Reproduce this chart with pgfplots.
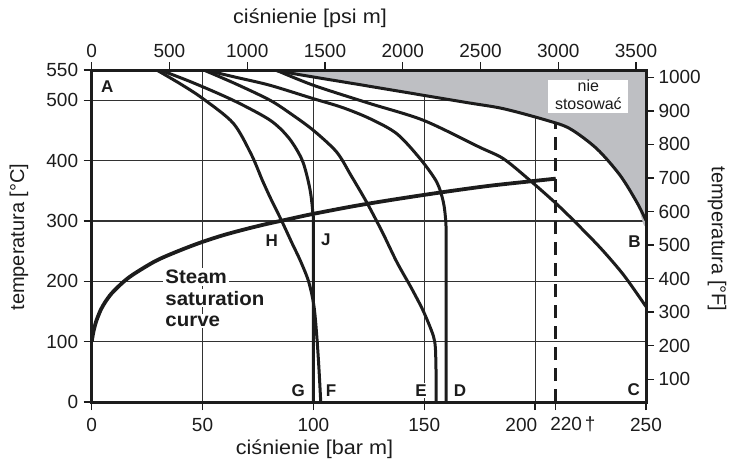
\documentclass[border=0pt]{standalone}
\usepackage{fontspec}
\setmainfont{Liberation Sans}
\usepackage{pgfplots}
\pgfplotsset{compat=1.18}
\definecolor{ink}{RGB}{28,28,28}
\definecolor{shade}{RGB}{190,191,195}
\definecolor{gridc}{RGB}{50,50,50}
\tikzset{
  lbl/.style={font=\bfseries\fontsize{17}{17}\selectfont, text=ink, fill=white, inner sep=1.5pt},
  steam/.style={font=\bfseries\fontsize{19.5}{19.5}\selectfont, text=ink, fill=white, inner sep=2pt, anchor=base west, xscale=1.05},
  axlbl/.style={font=\fontsize{20}{20}\selectfont, text=ink},
}
\begin{document}
\begin{tikzpicture}
\path[use as bounding box] (-91.7pt,-62pt) rectangle (638.3pt,402pt);
\begin{axis}[
  at={(0pt,0pt)}, anchor=south west,
  scale only axis, width=554.3pt, height=332pt,
  xmin=0, xmax=250, ymin=0, ymax=550,
  axis line style={line width=3pt, draw=ink},
  xtick={0,50,100,150,200,250},
  xticklabels={0,50,100,150,\makebox[0pt]{\hspace{-27.6pt}200},250},
  ytick={0,100,200,300,400,500,550},
  xtick pos=left, ytick pos=left,
  tick align=outside, major tick length=8pt,
  tick style={line width=1.3pt, draw=ink},
  xmajorgrids, ymajorgrids,
  major grid style={line width=1.2pt, draw=gridc},
  extra x ticks={209.3},
  extra x tick labels={220\hspace{3pt}†},
  extra x tick style={grid=none, xticklabel style={anchor=west, xshift=-5.7pt}},
  /pgf/number format/assume math mode=true,
  tick label style={font=\fontsize{19}{19}\selectfont, text=ink, inner sep=0pt},
  xticklabel style={anchor=center, yshift=-14.5pt},
  yticklabel style={anchor=east, xshift=-5.4pt},
]
% do-not-use region
\addplot[fill=shade, draw=none, smooth] coordinates {
 (82,550) (95.3,541.3) (120,526.3) (149.6,508.1) (170,495.6) (185.7,485.9)
 (205.2,466.7) (215.7,452.8) (227.8,419.6) (238.3,375.6) (245.8,331.3) (250,301) (250,550)};
\addplot[draw=ink, line width=3pt, smooth] coordinates {
 (82,550) (95.3,541.3) (120,526.3) (149.6,508.1) (170,495.6) (185.7,485.9)
 (205.2,466.7) (215.7,452.8) (227.8,419.6) (238.3,375.6) (245.8,331.3) (250,301)};
% dashed critical pressure
\addplot[draw=ink, line width=2.6pt, dash pattern=on 13pt off 8pt] coordinates {(209.3,0) (209.3,461)};
% B
\addplot[draw=ink, line width=3pt, smooth] coordinates {
 (83,550) (100,524.7) (125,495) (149.6,466.7) (175,422) (185.7,403) (197.7,367)
 (210,327) (220,291) (230,253) (240,210) (250,158)};
% D
\addplot[draw=ink, line width=3pt, smooth] coordinates {
 (51,550) (65,538) (80.4,524.7) (100,502.5) (113,488) (125.5,469.4) (137.6,444.5)
 (148.1,403.1) (155.6,364.5) (158.6,331.3) (159.7,298) (159.8,260) (159.8,0)};
% E
\addplot[draw=ink, line width=3pt, smooth] coordinates {
 (50.5,550) (65,527) (80.4,500) (90,477) (100,450) (110.5,414) (117,375) (124,331)
 (131,282) (137.6,232) (144,190) (149,155) (152.2,128) (154.2,108) (155,90) (155.3,50) (155.3,0)};
% J / G
\addplot[draw=ink, line width=3pt, smooth] coordinates {
 (30.8,550) (45,530) (63.7,500) (80.4,467) (89,437) (95,400) (98.3,355) (99.7,315) (100,276) (100,0)};
% H / F
\addplot[draw=ink, line width=3pt, smooth] coordinates {
 (29.3,550) (40,527) (50,503) (63.8,462) (72,410) (77,367) (81,335) (85.7,300) (90.5,262)
 (94,235) (97.8,200) (100.2,160) (101.5,110) (102.5,55) (103.3,0)};
% steam saturation curve
\addplot[draw=ink, line width=3.8pt, smooth] coordinates {
 (0,100) (0.5,111) (1,120) (2,133.5) (4,152) (6,165) (9,180) (14,198) (19,212) (29,234)
 (39,250) (49,264) (59,276) (69,286) (79,295) (89,303) (99,311) (119,325) (139,337)
 (159,348) (179,358) (199,366) (209.3,370)};
% labels
\node[lbl] at (axis cs:7,522) {A};
\node[lbl] at (axis cs:244.8,266) {B};
\node[lbl] at (axis cs:244.5,20.5) {C};
\node[lbl] at (axis cs:166.1,19.5) {D};
\node[lbl] at (axis cs:148.5,19.5) {E};
\node[lbl] at (axis cs:108,19.5) {F};
\node[lbl] at (axis cs:93.2,19.5) {G};
\node[lbl] at (axis cs:81.2,268) {H};
\node[lbl] at (axis cs:105.6,268) {J};
\node[steam] at (axis cs:32.2,196.6) {Steam};
\node[steam] at (axis cs:32.2,160.6) {saturation};
\node[steam] at (axis cs:32.2,125.9) {curve};
\node[fill=white, inner sep=0pt, minimum width=80pt, minimum height=32.4pt, align=center,
      font=\fontsize{16}{17.7}\selectfont, text=ink, text depth=4pt] at (axis cs:224,506) {nie\\stosować};
\end{axis}
\begin{axis}[
  at={(0pt,0pt)}, anchor=south west,
  scale only axis, width=554.3pt, height=332pt,
  xmin=0, xmax=3564, ymin=32, ymax=1022,
  axis x line*=top, axis y line*=right,
  axis line style={line width=3pt, draw=ink},
  xtick={0,500,...,3500}, ytick={100,200,...,1000},
  tick align=outside, major tick length=8pt,
  tick style={line width=1.3pt, draw=ink},
  /pgf/number format/assume math mode=true,
  /pgf/number format/set thousands separator={},
  tick label style={font=\fontsize{19}{19}\selectfont, text=ink, inner sep=0pt},
  xticklabel style={anchor=center, yshift=11.2pt},
  yticklabel style={anchor=west, xshift=4.3pt},
]
\addplot[draw=none] coordinates {(0,32)};
\end{axis}
\node[axlbl, xscale=1.08] at (222.8pt,-47pt) {ciśnienie [bar m]};
\node[axlbl, xscale=1.08] at (218.3pt,384pt) {ciśnienie [psi m]};
\node[axlbl, rotate=90] at (-72.7pt,165pt) {temperatura [°C]};
\node[axlbl, rotate=-90] at (625.3pt,163pt) {temperatura [°F]};
\end{tikzpicture}
\end{document}
